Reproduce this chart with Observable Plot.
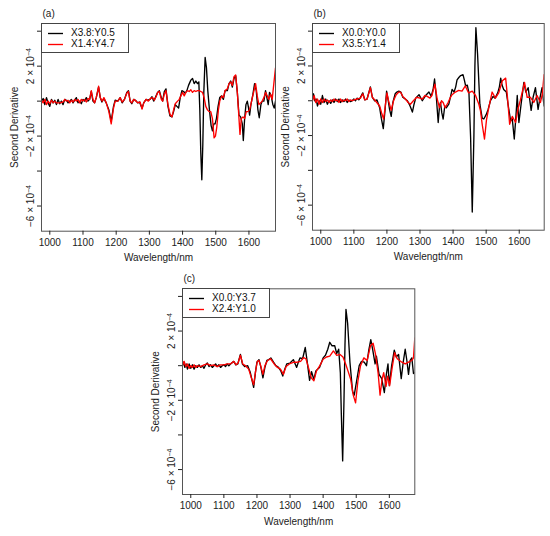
<!DOCTYPE html>
<html><head><meta charset="utf-8">
<script src="https://cdn.jsdelivr.net/npm/d3@7"></script>
<script src="https://cdn.jsdelivr.net/npm/@observablehq/plot@0.6"></script>
<style>
body{margin:0;background:#fff;}
#wrap{position:relative;width:550px;height:536px;font-family:"Liberation Sans",Arial,Helvetica,sans-serif;overflow:hidden;}
.panel{position:absolute;}
.legend{position:absolute;width:88px;height:30px;border:1px solid #444;background:#fff;box-sizing:border-box;font-size:10px;color:#111;}
.lsvg{position:absolute;left:0;top:0;}
.lt{position:absolute;left:29px;line-height:12px;white-space:nowrap;}
</style></head>
<body><div id="wrap"></div>
<script>
// values in units of 1e-4
const xTicks = [1000, 1100, 1200, 1300, 1400, 1500, 1600];
const yTicks = [-6, -4, -2, 0, 2, 4];
const yLabelValues = [2, -2, -6];
const yLabelTexts = ["2 \u00d7 10", "\u22122 \u00d7 10", "\u22126 \u00d7 10"];
const yLabelExponent = "\u22124";
const yDomain = [-7.44, 4.44];
const panelTags = ["(a)", "(b)", "(c)"];
const legendA = ["X3.8:Y0.5", "X1.4:Y4.7"];
const legendB = ["X0.0:Y0.0", "X3.5:Y1.4"];
const legendC = ["X0.0:Y3.7", "X2.4:Y1.0"];
const seriesColors = ["#000000", "#ff0000"];

const aBlack = [[975,0],[980,0.15],[985,-0.2],[990,0.2],[995,-0.1],[1000,-0.3],[1005,0.1],[1010,-0.1],[1015,0.05],[1020,-0.2],[1025,0.1],[1030,-0.15],[1035,0],[1040,-0.2],[1045,0.1],[1050,0.05],[1055,-0.1],[1060,0],[1065,0.1],[1070,-0.1],[1075,0.05],[1080,0.2],[1085,-0.1],[1090,0],[1095,-0.15],[1100,0.1],[1105,0],[1110,0.2],[1115,0],[1120,0.1],[1125,0.55],[1130,0],[1135,-0.1],[1140,0.2],[1147,0.8],[1152,0.2],[1157,-0.05],[1163,0.15],[1170,-0.1],[1178,-0.5],[1185,-1.15],[1192,-0.3],[1197,0.05],[1205,0],[1212,0.2],[1218,-0.1],[1225,0.1],[1232,0.5],[1237,0.6],[1242,0],[1247,-0.15],[1253,0.1],[1258,0.05],[1265,-0.1],[1270,-0.05],[1278,-0.4],[1283,-0.1],[1290,0.1],[1295,0.05],[1302,0.1],[1308,0.25],[1313,0],[1318,0.2],[1325,0.5],[1330,0.6],[1336,0.2],[1340,0],[1345,0.55],[1350,0.7],[1356,-0.3],[1362,-0.85],[1368,-0.9],[1373,-0.6],[1378,-0.2],[1383,-0.3],[1388,-0.4],[1393,0.2],[1398,0.6],[1403,0.55],[1408,0.45],[1413,0.6],[1418,0.9],[1425,1.2],[1430,1.3],[1435,1.0],[1440,1.15],[1445,1.0],[1449,1.1],[1452,-0.5],[1455,-3.0],[1458,-4.5],[1461,-2.5],[1464,0.5],[1468,2.5],[1472,1.9],[1476,0.6],[1481,-0.5],[1486,-1.4],[1490,-1.7],[1494,-1.3],[1498,-1.3],[1502,-1.0],[1507,-0.3],[1512,0.2],[1518,0.3],[1523,0.1],[1528,0.6],[1535,0.6],[1540,1.0],[1545,1.15],[1550,0.8],[1555,1.3],[1560,1.45],[1565,0.5],[1570,-0.8],[1575,-0.9],[1580,-1.3],[1583,-2.25],[1587,-1.0],[1591,-0.2],[1595,0],[1598,-0.3],[1602,-0.8],[1606,-0.2],[1612,0.4],[1617,1.0],[1622,0.6],[1627,-0.5],[1631,-0.95],[1636,-0.2],[1640,0],[1645,0],[1650,0.6],[1654,0.2],[1658,-0.2],[1662,0.5],[1667,0.3],[1672,-0.2],[1676,-0.4],[1680,0]];

const aRed = [[975,0.05],[980,-0.1],[985,0.1],[990,-0.2],[995,0],[1000,-0.15],[1005,0.05],[1010,-0.1],[1015,0],[1020,-0.1],[1030,-0.1],[1040,-0.05],[1045,0.1],[1050,0],[1055,0.05],[1060,-0.1],[1065,0.05],[1070,-0.05],[1075,0.1],[1080,0],[1085,0.1],[1090,-0.1],[1095,0.1],[1100,0],[1105,0.1],[1110,-0.05],[1115,0.15],[1120,0.1],[1125,0.6],[1130,0.1],[1135,-0.1],[1140,0.2],[1147,0.85],[1152,0.2],[1158,0],[1163,0.2],[1170,-0.1],[1178,-0.6],[1185,-1.3],[1192,-0.4],[1197,0],[1205,0],[1212,0.2],[1218,-0.05],[1225,0.1],[1232,0.45],[1237,0.55],[1242,0],[1247,-0.1],[1253,0.1],[1260,0],[1265,-0.1],[1272,-0.05],[1278,-0.45],[1283,-0.1],[1290,0.1],[1297,0],[1303,0.15],[1310,0.2],[1315,0.05],[1320,0.25],[1325,0.5],[1330,0.55],[1336,0.1],[1340,0],[1345,0.4],[1350,0.6],[1356,-0.2],[1362,-0.75],[1368,-0.9],[1373,-0.5],[1378,-0.15],[1385,0],[1390,0.1],[1395,0.3],[1400,0.5],[1405,0.3],[1410,0.5],[1415,0.6],[1420,0.55],[1425,0.65],[1430,0.5],[1435,0.6],[1440,0.55],[1445,0.6],[1450,0.6],[1455,0.55],[1460,0.5],[1465,0.2],[1470,-0.3],[1475,-0.5],[1480,-0.6],[1485,-0.6],[1490,-1.0],[1495,-2.1],[1499,-2.0],[1503,-1.5],[1508,-0.5],[1512,0],[1518,0.3],[1523,0.2],[1528,0.6],[1535,0.7],[1540,1.0],[1545,1.1],[1550,0.9],[1555,1.4],[1560,1.5],[1565,0.5],[1570,-1.0],[1573,-1.9],[1577,-1.0],[1582,-0.9],[1587,-1.0],[1592,-0.6],[1597,-0.6],[1602,-0.5],[1608,0],[1614,0.5],[1620,1.0],[1625,0.3],[1630,-0.2],[1635,-0.1],[1640,0],[1645,0.2],[1650,0.5],[1655,0.3],[1660,0.1],[1665,0.4],[1670,0.1],[1675,1.0],[1680,1.9]];

const bBlack = [[975,0.1],[978,0.4],[982,0],[986,0.1],[990,-0.3],[995,0],[1000,-0.2],[1005,0.3],[1010,-0.1],[1015,0.1],[1020,-0.2],[1025,0],[1030,-0.15],[1035,0.05],[1040,-0.1],[1045,0.1],[1050,-0.05],[1055,0.1],[1060,-0.1],[1065,0.05],[1070,-0.05],[1075,0.1],[1080,-0.1],[1085,0.05],[1090,-0.05],[1095,0],[1100,0.1],[1105,0],[1110,0.15],[1115,0.05],[1120,0.2],[1127,0.45],[1133,0.05],[1140,0.1],[1150,0.8],[1156,0.2],[1163,0],[1170,0.05],[1178,-0.4],[1183,-1.0],[1189,-1.6],[1194,-0.6],[1199,0.55],[1204,0],[1208,-0.5],[1213,-0.9],[1218,-0.1],[1225,0.4],[1230,0.5],[1236,0.55],[1242,0.5],[1248,0.2],[1255,0.1],[1262,0],[1270,-0.3],[1277,-0.65],[1282,-0.2],[1287,0.15],[1297,0.35],[1307,0],[1317,0.3],[1327,0.5],[1334,0.25],[1340,0.7],[1344,1.25],[1349,0.3],[1355,-1.25],[1359,-0.3],[1362,-0.1],[1366,-0.7],[1370,-1.05],[1375,-0.3],[1380,-0.4],[1387,-0.2],[1393,0.3],[1397,0.65],[1403,0.5],[1408,0.8],[1412,1.2],[1418,1.35],[1423,1.45],[1430,1.5],[1434,1.2],[1438,0.85],[1443,0.9],[1448,0.45],[1453,-2.1],[1458,-6.4],[1463,-2.0],[1466,2.0],[1469,4.2],[1474,2.7],[1481,-0.2],[1488,-1.0],[1493,-1.05],[1500,-0.8],[1506,-0.5],[1513,0],[1521,0.25],[1527,0.15],[1535,0.45],[1540,0.8],[1544,1.3],[1548,0.9],[1553,0.65],[1561,0.5],[1567,-0.3],[1574,-1.15],[1579,-1.05],[1585,-2.2],[1590,-0.9],[1594,0.3],[1599,-1.25],[1605,-0.3],[1614,1.05],[1620,0.5],[1627,0.75],[1636,-0.55],[1642,0.2],[1649,0.75],[1657,-0.5],[1663,0.2],[1669,0.75],[1675,-0.3]];

const bRed = [[975,0],[980,0.3],[985,-0.1],[990,0.1],[995,-0.2],[1000,0.1],[1005,-0.1],[1010,0.1],[1015,-0.05],[1020,0.05],[1025,-0.1],[1030,0.05],[1035,-0.05],[1040,0.1],[1045,0],[1050,0.05],[1055,-0.1],[1060,0.1],[1065,-0.05],[1070,0.05],[1075,0],[1080,0.1],[1085,-0.05],[1090,0.05],[1095,0],[1100,0.05],[1110,0.1],[1120,0.15],[1127,0.4],[1133,0.05],[1140,0.1],[1150,0.75],[1156,0.2],[1165,0],[1178,-0.3],[1184,-0.7],[1190,-1.05],[1195,-0.3],[1200,0.45],[1205,0],[1213,-0.55],[1220,0],[1228,0.35],[1236,0.5],[1241,0.5],[1248,0.25],[1256,0.1],[1264,-0.1],[1271,-0.2],[1280,0],[1290,0.2],[1300,0.15],[1307,0.1],[1315,0.3],[1322,0.25],[1330,0.15],[1336,0.3],[1345,0.95],[1352,0.1],[1359,-0.4],[1365,0],[1370,-0.1],[1376,-0.4],[1385,-0.1],[1392,0.2],[1397,0.35],[1407,0.5],[1417,0.6],[1427,0.55],[1437,0.85],[1447,0.45],[1458,0.55],[1468,0.3],[1478,-0.2],[1483,-0.6],[1488,-1.35],[1495,-2.2],[1501,-1.1],[1508,-0.4],[1518,0.5],[1528,0.15],[1538,0.45],[1549,1.15],[1559,1.3],[1564,0.3],[1571,-1.35],[1579,-0.9],[1589,-1.25],[1596,-0.5],[1603,0],[1616,1.05],[1624,0.2],[1634,0.2],[1644,-0.1],[1654,0.3],[1664,-0.1],[1670,0.4],[1675,1.5]];

const cBlack = [[975,0.05],[978,0.2],[982,-0.1],[986,0.1],[990,-0.2],[995,0.1],[1000,-0.15],[1005,0.05],[1010,-0.2],[1015,0],[1020,-0.1],[1025,0.05],[1030,-0.1],[1035,0],[1040,-0.15],[1045,0.05],[1050,0.15],[1055,-0.05],[1060,0.05],[1065,-0.1],[1070,0],[1075,0.1],[1080,-0.05],[1085,0.05],[1090,-0.1],[1095,0],[1100,0.05],[1105,-0.05],[1110,0.1],[1115,0],[1120,0.1],[1130,0.25],[1136,0.05],[1142,0.1],[1150,0.65],[1156,0.1],[1163,-0.05],[1172,0],[1180,-0.4],[1190,-1.25],[1196,-0.3],[1200,0.2],[1206,0.35],[1212,-0.1],[1218,-0.7],[1224,-0.1],[1230,0.3],[1236,0.35],[1242,0.45],[1250,0.2],[1257,0],[1265,-0.1],[1272,-0.3],[1278,-0.6],[1284,-0.2],[1290,0.1],[1300,0.15],[1310,0.35],[1320,-0.1],[1325,0.2],[1330,0.45],[1338,0.4],[1346,1.05],[1352,0.2],[1359,-0.85],[1365,-0.35],[1372,-0.8],[1378,-0.3],[1389,-0.1],[1395,0.2],[1400,0.45],[1407,0.6],[1414,0.95],[1420,1.35],[1427,1.15],[1435,1.15],[1441,0.7],[1447,0.95],[1452,-0.4],[1455,-2.8],[1459,-5.5],[1463,-2.0],[1466,1.2],[1469,3.25],[1474,2.45],[1481,0.2],[1489,-1.5],[1494,-1.7],[1501,-0.9],[1509,0],[1516,0.25],[1524,0.2],[1531,0],[1538,0.9],[1544,1.5],[1550,0.9],[1557,0.1],[1561,0.55],[1569,-0.5],[1577,-0.75],[1585,-1.55],[1591,-0.5],[1596,0.1],[1600,-1.15],[1607,0],[1615,0.9],[1621,0.5],[1628,0.65],[1636,-0.75],[1642,0.2],[1648,0.95],[1653,0.3],[1658,-0.5],[1663,0.3],[1668,0.45],[1673,-0.45],[1677,-0.4]];

const cRed = [[975,0],[980,0.25],[985,-0.05],[990,0.1],[995,-0.15],[1000,0],[1005,-0.1],[1010,0.05],[1015,-0.1],[1020,0],[1030,-0.05],[1040,0.05],[1050,0.1],[1060,0],[1070,0.05],[1080,-0.05],[1090,0.05],[1100,0.05],[1110,0.1],[1120,0.1],[1130,0.25],[1137,0.05],[1143,0.15],[1150,0.6],[1157,0.1],[1165,0],[1175,-0.2],[1183,-0.7],[1190,-1.1],[1196,-0.3],[1201,0.25],[1206,0.3],[1212,-0.05],[1218,-0.5],[1224,0],[1232,0.3],[1241,0.4],[1252,0.1],[1262,-0.1],[1271,-0.2],[1280,-0.5],[1288,-0.05],[1298,0.1],[1312,0.2],[1322,0.2],[1332,0.25],[1341,0.47],[1348,0.4],[1357,-0.2],[1364,-0.7],[1372,-0.87],[1380,-0.3],[1390,0],[1400,0.37],[1410,0.5],[1420,0.55],[1431,0.85],[1441,0.6],[1451,0.65],[1460,0.5],[1468,0.1],[1475,-0.3],[1483,-0.77],[1491,-1.7],[1498,-2.15],[1505,-0.9],[1513,0],[1523,0.45],[1533,0.3],[1543,1.15],[1551,1.3],[1558,0.7],[1566,-0.4],[1572,-1.7],[1578,-0.8],[1583,-0.4],[1590,-1.2],[1595,-0.6],[1601,-1.15],[1608,-0.2],[1616,0.75],[1624,0.4],[1638,0.2],[1648,0.1],[1658,0.2],[1668,0.3],[1673,0.45],[1677,1.6]];

const panels = [
  {tag: panelTags[0], black: aBlack, red: aRed, names: legendA, left: 0, top: 0, width: 276, height: 268,
   mL: 41, mR: 1, mT: 23, mB: 37.3, xDomain: [975, 1680]},
  {tag: panelTags[1], black: bBlack, red: bRed, names: legendB, left: 275, top: 0, width: 270, height: 268,
   mL: 37, mR: 1.3, mT: 23, mB: 38.3, xDomain: [975, 1675.5]},
  {tag: panelTags[2], black: cBlack, red: cRed, names: legendC, left: 140, top: 268, width: 276, height: 268,
   mL: 42, mR: 1.7, mT: 20.3, mB: 42, xDomain: [975, 1677]}
];

const wrap = document.getElementById("wrap");
const FONT = '"Liberation Sans", Arial, Helvetica, sans-serif';

for (const p of panels) {
  const chart = Plot.plot({
    width: p.width, height: p.height,
    marginLeft: p.mL, marginRight: p.mR, marginTop: p.mT, marginBottom: p.mB,
    x: {domain: p.xDomain},
    y: {domain: yDomain},
    style: {fontFamily: FONT, fontSize: "10px", color: "#222", background: "transparent", overflow: "visible"},
    marks: [
      Plot.line(p.black, {x: d => d[0], y: d => d[1], stroke: seriesColors[0], strokeWidth: 1.35, clip: true}),
      Plot.line(p.red, {x: d => d[0], y: d => d[1], stroke: seriesColors[1], strokeWidth: 1.35, clip: true}),
      Plot.frame({stroke: "#555", strokeWidth: 1}),
      Plot.axisX(xTicks, {tickSize: 4, tickPadding: 3.5, label: null, tickFormat: d => String(d)}),
      Plot.axisY(yTicks, {tickSize: 4, tickFormat: () => "", label: null}),
      Plot.text(yLabelValues, {y: d => d, frameAnchor: "left", dx: -7.5, rotate: -90, lineAnchor: "bottom", textAnchor: "middle",
        text: (d, i) => yLabelTexts[i]}),
      Plot.text(["Second Derivative"], {frameAnchor: "left", dx: -24, rotate: -90, lineAnchor: "bottom", textAnchor: "middle", text: d => d}),
      Plot.text(["Wavelength/nm"], {frameAnchor: "bottom", dy: 30, lineAnchor: "bottom", textAnchor: "middle", text: d => d}),
      Plot.text([p.tag], {frameAnchor: "top-left", dx: 1, dy: -6.5, lineAnchor: "bottom", textAnchor: "start", text: d => d})
    ]
  });
  // add superscript exponent to the y tick labels
  d3.select(chart).selectAll("text").each(function() {
    if (yLabelTexts.includes(this.textContent) && this.childElementCount === 0) {
      d3.select(this).append("tspan")
        .attr("dy", "-0.45em")
        .attr("font-size", "7px")
        .text(yLabelExponent);
    }
  });
  const holder = document.createElement("div");
  holder.className = "panel";
  holder.style.left = p.left + "px";
  holder.style.top = p.top + "px";
  holder.appendChild(chart);
  wrap.appendChild(holder);

  // legend at top-left corner of the plot frame
  const lg = document.createElement("div");
  lg.className = "legend";
  lg.style.left = Math.round(p.left + p.mL) + "px";
  lg.style.top = Math.round(p.top + p.mT) + "px";
  const sv = d3.create("svg").attr("class", "lsvg").attr("width", 86).attr("height", 28);
  p.names.forEach((name, i) => {
    const cy = 9 + i * 11;
    sv.append("line").attr("x1", 6).attr("x2", 21).attr("y1", cy + 0.5).attr("y2", cy + 0.5)
      .attr("stroke", seriesColors[i]).attr("stroke-width", 1.35);
    const t = document.createElement("div");
    t.className = "lt";
    t.style.top = (cy - 6) + "px";
    t.textContent = name;
    lg.appendChild(t);
  });
  lg.appendChild(sv.node());
  wrap.appendChild(lg);
}
</script>
</body></html>
